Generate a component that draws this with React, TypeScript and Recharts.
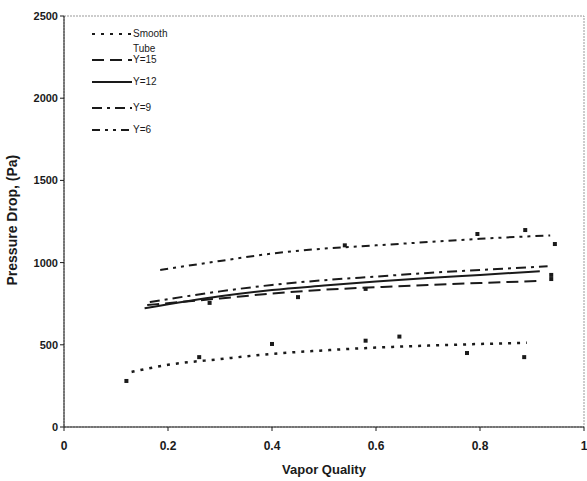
import React from 'react';
import {
  ComposedChart,
  Line,
  Scatter,
  XAxis,
  YAxis,
  ReferenceArea,
} from 'recharts';

const xTicks = [0, 0.2, 0.4, 0.6, 0.8, 1];
const yTicks = [0, 500, 1000, 1500, 2000, 2500];

// trend lines
const smoothTrend = [
  { x: 0.13, y: 335 }, { x: 0.2, y: 378 }, { x: 0.3, y: 413 }, { x: 0.4, y: 445 },
  { x: 0.5, y: 466 }, { x: 0.6, y: 483 }, { x: 0.7, y: 495 }, { x: 0.8, y: 505 },
  { x: 0.89, y: 512 },
];
const y15Trend = [
  { x: 0.16, y: 742 }, { x: 0.3, y: 782 }, { x: 0.4, y: 812 }, { x: 0.5, y: 835 },
  { x: 0.6, y: 850 }, { x: 0.7, y: 864 }, { x: 0.8, y: 876 }, { x: 0.915, y: 888 },
];
const y12Trend = [
  { x: 0.155, y: 722 }, { x: 0.3, y: 795 }, { x: 0.4, y: 833 }, { x: 0.5, y: 860 },
  { x: 0.6, y: 885 }, { x: 0.7, y: 906 }, { x: 0.8, y: 925 }, { x: 0.915, y: 948 },
];
const y9Trend = [
  { x: 0.165, y: 760 }, { x: 0.3, y: 825 }, { x: 0.4, y: 864 }, { x: 0.5, y: 893 },
  { x: 0.6, y: 915 }, { x: 0.7, y: 937 }, { x: 0.8, y: 955 }, { x: 0.93, y: 978 },
];
const y6Trend = [
  { x: 0.185, y: 955 }, { x: 0.3, y: 1010 }, { x: 0.4, y: 1055 }, { x: 0.5, y: 1085 },
  { x: 0.6, y: 1105 }, { x: 0.7, y: 1125 }, { x: 0.8, y: 1145 }, { x: 0.935, y: 1165 },
];

// measured points
const smoothPts = [
  { x: 0.12, y: 280 }, { x: 0.26, y: 425 }, { x: 0.4, y: 505 }, { x: 0.58, y: 525 },
  { x: 0.645, y: 550 }, { x: 0.775, y: 450 }, { x: 0.885, y: 425 },
];
const y6Pts = [
  { x: 0.54, y: 1105 }, { x: 0.795, y: 1174 }, { x: 0.887, y: 1198 }, { x: 0.944, y: 1113 },
];
const y15Pts = [
  { x: 0.28, y: 755 }, { x: 0.45, y: 790 }, { x: 0.58, y: 840 }, { x: 0.937, y: 900 },
];
const y9Pts = [{ x: 0.937, y: 925 }];

const ink = '#1a1a1a';

const legendItems = [
  { name: 'Smooth', dash: '3 6', top: 29 },
  { name: 'Y=15', dash: '12 6', top: 55 },
  { name: 'Y=12', dash: undefined, top: 77 },
  { name: 'Y=9', dash: '10 5 3 5', top: 103 },
  { name: 'Y=6', dash: '8 5 3 5 3 5', top: 125 },
];

const Dot = (props: any) => (
  <rect x={props.cx - 2} y={props.cy - 2} width={4} height={4} fill={ink} />
);

export default function App() {
  return (
    <div style={{ position: 'absolute', left: 0, top: 0, width: 587, height: 481, background: '#fff', fontFamily: '"Liberation Sans", Arial, sans-serif' }}>
      <ComposedChart width={587} height={481} margin={{ top: 16, right: 3, left: 0, bottom: 0 }}>
        <ReferenceArea x1={0} x2={1} y1={0} y2={2500} fill="none" stroke="#999" strokeWidth={1} strokeDasharray="2 1" ifOverflow="visible" />
        <XAxis
          type="number"
          dataKey="x"
          domain={[0, 1]}
          ticks={xTicks}
          height={54}
          stroke={ink}
          tickSize={4}
          tick={{ fill: ink, fontSize: 12, fontWeight: 'bold', dy: 8 }}
          tickFormatter={(v: number) => String(v)}
          label={{ value: 'Vapor Quality', position: 'insideBottom', offset: 7, fill: ink, fontSize: 13, fontWeight: 'bold' }}
        />
        <YAxis
          type="number"
          dataKey="y"
          domain={[0, 2500]}
          ticks={yTicks}
          width={64}
          stroke={ink}
          tickSize={4}
          tick={{ fill: ink, fontSize: 11, fontWeight: 'bold' }}
          label={{ value: 'Pressure Drop, (Pa)', angle: -90, position: 'insideLeft', offset: 12, dy: 64, fill: ink, fontSize: 14, fontWeight: 'bold' }}
        />
        <Line data={smoothTrend} dataKey="y" type="monotone" stroke={ink} strokeWidth={2.5} strokeDasharray="3 6" dot={false} isAnimationActive={false} />
        <Line data={y15Trend} dataKey="y" type="monotone" stroke={ink} strokeWidth={2} strokeDasharray="12 6" dot={false} isAnimationActive={false} />
        <Line data={y12Trend} dataKey="y" type="monotone" stroke={ink} strokeWidth={2} dot={false} isAnimationActive={false} />
        <Line data={y9Trend} dataKey="y" type="monotone" stroke={ink} strokeWidth={2} strokeDasharray="10 5 3 5" dot={false} isAnimationActive={false} />
        <Line data={y6Trend} dataKey="y" type="monotone" stroke={ink} strokeWidth={2} strokeDasharray="8 5 3 5 3 5" dot={false} isAnimationActive={false} />
        <Scatter data={smoothPts} dataKey="y" shape={Dot} isAnimationActive={false} />
        <Scatter data={y6Pts} dataKey="y" shape={Dot} isAnimationActive={false} />
        <Scatter data={y15Pts} dataKey="y" shape={Dot} isAnimationActive={false} />
        <Scatter data={y9Pts} dataKey="y" shape={Dot} isAnimationActive={false} />
      </ComposedChart>
      {legendItems.map((it) => (
        <div key={it.name} style={{ position: 'absolute', left: 92, top: it.top, display: 'flex', alignItems: 'center', fontSize: 10, color: ink, lineHeight: '10px' }}>
          <svg width={40} height={10}>
            <line x1={0} y1={5} x2={40} y2={5} stroke={ink} strokeWidth={2} strokeDasharray={it.dash} />
          </svg>
          <span style={{ marginLeft: 1 }}>{it.name}</span>
        </div>
      ))}
      <div style={{ position: 'absolute', left: 133, top: 44, fontSize: 10, color: ink, lineHeight: '10px' }}>Tube</div>
    </div>
  );
}
